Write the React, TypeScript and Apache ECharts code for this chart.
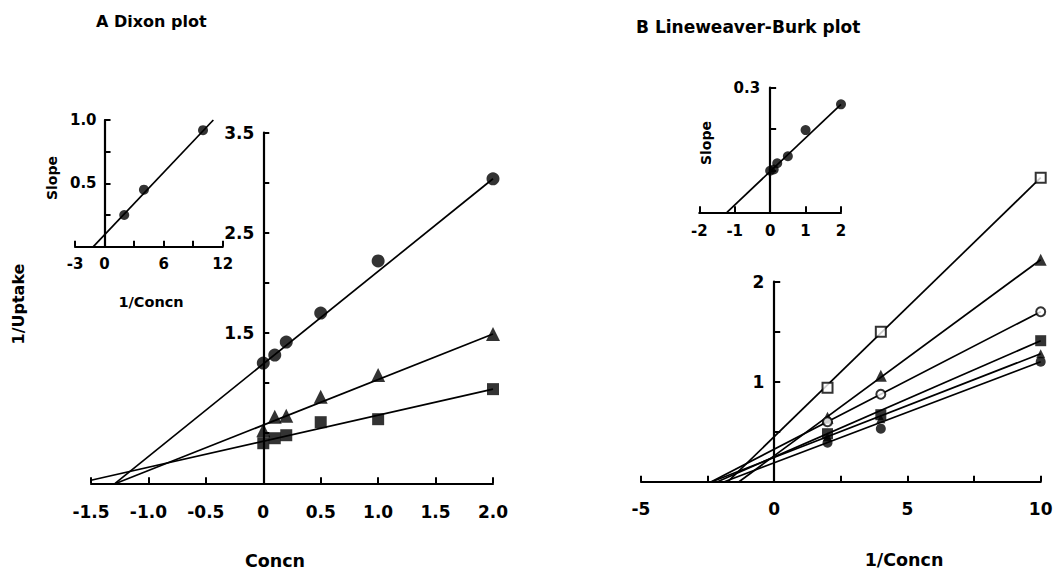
import React, { useEffect, useRef } from "react";
import * as echarts from "echarts";

// ---------- Data ----------
// A: Dixon plot (1/Uptake vs inhibitor concentration)
const dixonConc = [0, 0.1, 0.2, 0.5, 1, 2];
const dixonCircle = [1.2, 1.28, 1.41, 1.7, 2.22, 3.04];
const dixonTriangle = [0.53, 0.665, 0.675, 0.865, 1.08, 1.49];
const dixonSquare = [0.4, 0.45, 0.48, 0.61, 0.64, 0.94];
const dixonCircleFit = [[-1.29, 0], [2, 3.04]];
const dixonTriangleFit = [[-1.28, 0], [2, 1.49]];
const dixonSquareFit = [[-1.5, 0.03], [2, 0.94]];

// A inset: slope vs 1/Concn
const dixonInsetX = [2, 4, 10];
const dixonInsetSlope = [0.25, 0.45, 0.92];
const dixonInsetFit = [[-1.14, 0], [11.05, 1.0]];

// B: Lineweaver-Burk plot (1/Uptake vs 1/Concn)
const lbInvConc = [2, 4, 10];
const lbOpenSquare = [0.94, 1.5, 3.04];
const lbBigTriangle = [0.64, 1.06, 2.22];
const lbOpenCircle = [0.6, 0.875, 1.7];
const lbFilledSquare = [0.48, 0.67, 1.41];
const lbSmallTriangle = [0.45, 0.63, 1.28];
const lbFilledCircle = [0.39, 0.53, 1.2];
const lbOpenSquareFit = [[-1.74, 0], [10, 3.04]];
const lbBigTriangleFit = [[-1.32, 0], [10, 2.22]];
const lbOpenCircleFit = [[-2.36, 0], [10, 1.7]];
const lbFilledSquareFit = [[-2.13, 0], [10, 1.41]];
const lbSmallTriangleFit = [[-2.34, 0], [10, 1.28]];
const lbFilledCircleFit = [[-1.87, 0], [10, 1.2]];

// B inset: slope vs concentration
const lbInsetX = [0, 0.1, 0.2, 0.5, 1, 2];
const lbInsetSlope = [0.1, 0.103, 0.118, 0.135, 0.198, 0.26];
const lbInsetFit = [[-1.22, 0], [2, 0.26]];

// Tick labels shown
const dixonXTicks = ["-1.5", "-1.0", "-0.5", "0", "0.5", "1.0", "1.5", "2.0"];
const dixonYTicks = ["1.5", "2.5", "3.5"];
const dixonInsetXTicks = ["-3", "0", "6", "12"];
const dixonInsetYTicks = ["0.5", "1.0"];
const lbXTicks = ["-5", "0", "5", "10"];
const lbYTicks = ["1", "2"];
const lbInsetXTicks = ["-2", "-1", "0", "1", "2"];
const lbInsetYTicks = ["0.3"];

// ---------- Helpers ----------
const FONT = "DejaVu Sans";
const fmt1 = (v: number) => (Math.abs(v) < 1e-9 ? "0" : v.toFixed(1));
const fmtInt = (v: number) => String(Math.round(v * 1000) / 1000);
const pick = (list: string[], f: (v: number) => string) => (v: number) => {
  const s = f(v);
  return list.includes(s) ? s : "";
};

const pairs = (xs: number[], ys: number[]) => xs.map((x, i) => [x, ys[i]]);

type Panel = {
  grid: { left: number; top: number; width: number; height: number };
  x: [number, number, number];
  y: [number, number, number];
};

const panels: Panel[] = [
  { grid: { left: 91, top: 132.7, width: 402, height: 350.6 }, x: [-1.5, 2, 0.5], y: [0, 3.5, 0.5] },
  { grid: { left: 75, top: 120, width: 147.7, height: 126.7 }, x: [-3, 12, 3], y: [0, 1, 0.25] },
  { grid: { left: 641, top: 281.7, width: 399.7, height: 200 }, x: [-5, 10, 2.5], y: [0, 2, 0.5] },
  { grid: { left: 699.3, top: 87.7, width: 141.7, height: 124.6 }, x: [-2, 2, 1], y: [0, 0.3, 0.1] },
];

function makeAxis(
  gridIndex: number,
  range: [number, number, number],
  formatter: (v: number) => string,
  fontSize: number,
  margin: number,
  offset: number
) {
  return {
    type: "value",
    gridIndex,
    min: range[0],
    max: range[1],
    interval: range[2],
    offset,
    axisLine: { show: true, onZero: false, lineStyle: { color: "#000", width: 2.2 } },
    axisTick: { show: true, inside: true, length: 6, lineStyle: { color: "#000", width: 2 } },
    axisLabel: {
      formatter,
      margin,
      fontFamily: FONT,
      fontWeight: "bold",
      fontSize,
      color: "#000",
      showMinLabel: true,
      showMaxLabel: true,
    },
    splitLine: { show: false },
  };
}

// y axis sits at x = 0 of its panel: shift it right from the grid's left edge
const yOffset = (p: Panel) => -((0 - p.x[0]) / (p.x[1] - p.x[0])) * p.grid.width;

function fitLine(data: number[][], xi: number) {
  return {
    type: "line",
    xAxisIndex: xi,
    yAxisIndex: xi,
    data,
    showSymbol: false,
    symbol: "none",
    clip: false,
    lineStyle: { color: "#000", width: 1.7 },
    z: 2,
  };
}

function points(data: number[][], xi: number, symbol: string, size: number, open = false) {
  return {
    type: "scatter",
    xAxisIndex: xi,
    yAxisIndex: xi,
    data,
    symbol,
    symbolSize: size,
    clip: false,
    itemStyle: open
      ? { color: "#fff", borderColor: "#000", borderWidth: 2 }
      : { color: "#000" },
    z: 5,
  };
}

function label(text: string, x: number, y: number, size: number, opts: any = {}) {
  return {
    type: "text",
    x,
    y,
    rotation: opts.rotate ? Math.PI / 2 : 0,
    style: {
      text,
      fill: "#000",
      font: `bold ${size}px "${FONT}"`,
      textAlign: opts.align || "center",
      textVerticalAlign: "middle",
    },
  };
}

export default function App() {
  const ref = useRef<HTMLDivElement>(null);

  useEffect(() => {
    if (!ref.current) return;
    const chart = echarts.init(ref.current, null, { renderer: "svg" });

    const option: any = {
      animation: false,
      backgroundColor: "#fff",
      grid: panels.map((p) => ({ ...p.grid, outerBoundsMode: "none" })),
      xAxis: [
        makeAxis(0, panels[0].x, pick(dixonXTicks, fmt1), 17, 20, 0),
        makeAxis(1, panels[1].x, pick(dixonInsetXTicks, fmtInt), 15, 10, 0),
        makeAxis(2, panels[2].x, pick(lbXTicks, fmtInt), 17, 19, 0),
        makeAxis(3, panels[3].x, pick(lbInsetXTicks, fmtInt), 15, 11, 0),
      ],
      yAxis: [
        makeAxis(0, panels[0].y, pick(dixonYTicks, fmt1), 17, 9, yOffset(panels[0])),
        makeAxis(1, panels[1].y, pick(dixonInsetYTicks, fmt1), 15, 8, yOffset(panels[1])),
        makeAxis(2, panels[2].y, pick(lbYTicks, fmtInt), 17, 10, yOffset(panels[2])),
        makeAxis(3, panels[3].y, pick(lbInsetYTicks, fmt1), 15, 10, yOffset(panels[3])),
      ],
      series: [
        // A main
        fitLine(dixonCircleFit, 0),
        fitLine(dixonTriangleFit, 0),
        fitLine(dixonSquareFit, 0),
        points(pairs(dixonConc, dixonCircle), 0, "circle", 13),
        points(pairs(dixonConc, dixonTriangle), 0, "triangle", 14),
        points(pairs(dixonConc, dixonSquare), 0, "rect", 12),
        // A inset
        fitLine(dixonInsetFit, 1),
        points(pairs(dixonInsetX, dixonInsetSlope), 1, "circle", 10),
        // B main
        fitLine(lbOpenSquareFit, 2),
        fitLine(lbBigTriangleFit, 2),
        fitLine(lbOpenCircleFit, 2),
        fitLine(lbFilledSquareFit, 2),
        fitLine(lbSmallTriangleFit, 2),
        fitLine(lbFilledCircleFit, 2),
        points(pairs(lbInvConc, lbOpenSquare), 2, "rect", 10, true),
        points(pairs(lbInvConc, lbBigTriangle), 2, "triangle", 12),
        points(pairs(lbInvConc, lbOpenCircle), 2, "circle", 9, true),
        points(pairs(lbInvConc, lbFilledSquare), 2, "rect", 11),
        points(pairs(lbInvConc, lbSmallTriangle), 2, "triangle", 9),
        points(pairs(lbInvConc, lbFilledCircle), 2, "circle", 10),
        // B inset
        fitLine(lbInsetFit, 3),
        points(pairs(lbInsetX, lbInsetSlope), 3, "circle", 10),
      ],
      graphic: [
        label("A Dixon plot", 96, 21, 16, { align: "left" }),
        label("B Lineweaver-Burk plot", 636, 27, 17, { align: "left" }),
        label("1/Uptake", 18, 304, 16, { rotate: true }),
        label("Concn", 275, 561, 17.5),
        label("Slope", 52, 178, 14, { rotate: true }),
        label("1/Concn", 151, 302, 14.5),
        label("Slope", 706, 143, 14, { rotate: true }),
        label("1/Concn", 904, 560, 17.5),
      ],
    };

    chart.setOption(option);
    return () => chart.dispose();
  }, []);

  return (
    <div
      ref={ref}
      style={{ position: "fixed", left: 0, top: 0, width: 1060, height: 570, background: "#fff" }}
    />
  );
}
